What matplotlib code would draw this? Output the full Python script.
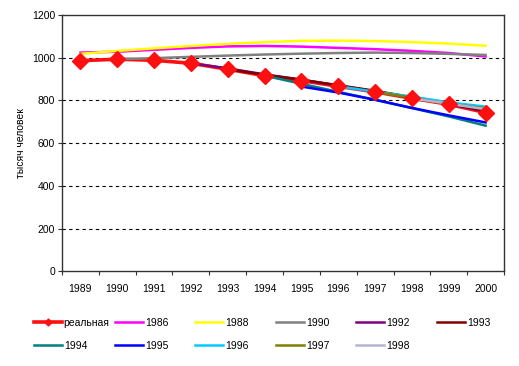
import matplotlib
matplotlib.use("Agg")
import matplotlib.pyplot as plt
from matplotlib.lines import Line2D
import numpy as np

plt.rcParams['font.family'] = ['Liberation Sans', 'DejaVu Sans']
plt.rcParams['font.size'] = 7.5

years = ["1989", "1990", "1991", "1992", "1993", "1994", "1995", "1996", "1997", "1998", "1999", "2000"]

real = [986, 993, 988, 974, 946, 916, 893, 866, 840, 810, 782, 743]
f1986 = [1024, 1028, 1037, 1046, 1053, 1055, 1052, 1046, 1040, 1032, 1022, 1006]
f1988 = [1018, 1032, 1044, 1055, 1065, 1073, 1079, 1080, 1078, 1073, 1066, 1056]
f1990 = [None, 993, 998, 1004, 1010, 1015, 1019, 1022, 1024, 1022, 1018, 1013]
f1992 = [None, None, None, 974, 950, 922, 897, 870, 843, 814, 784, 748]
f1993 = [None, None, None, None, 946, 920, 897, 871, 845, 815, 787, 751]
f1994 = [None, None, None, None, None, 916, 878, 840, 803, 764, 725, 682]
f1995 = [None, None, None, None, None, None, 865, 837, 803, 765, 730, 697]
f1996 = [None, None, None, None, None, None, None, 866, 841, 818, 791, 771]
f1997 = [None, None, None, None, None, None, None, None, 840, 812, 784, 763]
f1998 = [None, None, None, None, None, None, None, None, None, 810, 785, 759]

series = [
    ("1986", f1986, "#FF00FF"),
    ("1988", f1988, "#FFFF00"),
    ("1990", f1990, "#808080"),
    ("1992", f1992, "#800080"),
    ("1993", f1993, "#800000"),
    ("1994", f1994, "#008080"),
    ("1995", f1995, "#0000FF"),
    ("1996", f1996, "#00CCFF"),
    ("1997", f1997, "#808000"),
    ("1998", f1998, "#B4B4D2"),
]

fig = plt.figure(figsize=(5.19, 3.66), dpi=100)
ax = fig.add_axes([62/519, 1-271.3/366, (504-62)/519, (271.3-15)/366])

x = np.arange(len(years))
red = "#FF1010"
ax.plot(x, real, color=red, lw=2.6, zorder=3, solid_capstyle='butt')
for name, vals, col in series:
    v = np.array([np.nan if a is None else a for a in vals], dtype=float)
    ax.plot(x, v, color=col, lw=1.8, zorder=4)
ax.plot(x, real, linestyle='none', marker='D', markersize=8, color=red,
        markeredgecolor=red, zorder=6)

ax.set_xlim(-0.5, len(years) - 0.5)
ax.set_ylim(0, 1200)
ax.set_yticks(np.arange(0, 1201, 200))
ax.set_xticks(x)
ax.set_xticklabels(years)
ax.set_xticks(np.arange(-0.5, len(years), 1), minor=True)
ax.tick_params(axis='x', which='major', length=0, pad=9)
ax.tick_params(axis='x', which='minor', length=3, width=0.8, color='#333333', direction='out')
ax.tick_params(axis='y', length=3, width=0.8, color='#333333', direction='out', pad=2)
for yv in range(200, 1200, 200):
    ax.axhline(yv, color='black', lw=0.8, ls=(0, (3, 3)), zorder=1)
for s in ax.spines.values():
    s.set_color('#333333')
    s.set_linewidth(1.0)
ax.set_ylabel("тысяч человек", labelpad=4.5)

# legend entries placed like the original fixed-width layout
labels = ["реальная"] + [s[0] for s in series]
colors = [red] + [s[2] for s in series]
col_x = [33, 114, 194, 275, 355, 436]
row_y = [323, 346]
for i, (lab, col) in enumerate(zip(labels, colors)):
    r, c = divmod(i, 6)
    if i == 0:
        h = Line2D([], [], color=col, lw=2.6, marker='D', markersize=3.5)
    else:
        h = Line2D([], [], color=col, lw=1.8)
    fig.legend(handles=[h], labels=[lab], loc='center left',
               bbox_to_anchor=(col_x[c]/519 - 0.002, 1 - row_y[r]/366),
               frameon=False, handlelength=2.7, handletextpad=0.15,
               borderpad=0.2, borderaxespad=0)

fig.savefig("out.png", dpi=100)
